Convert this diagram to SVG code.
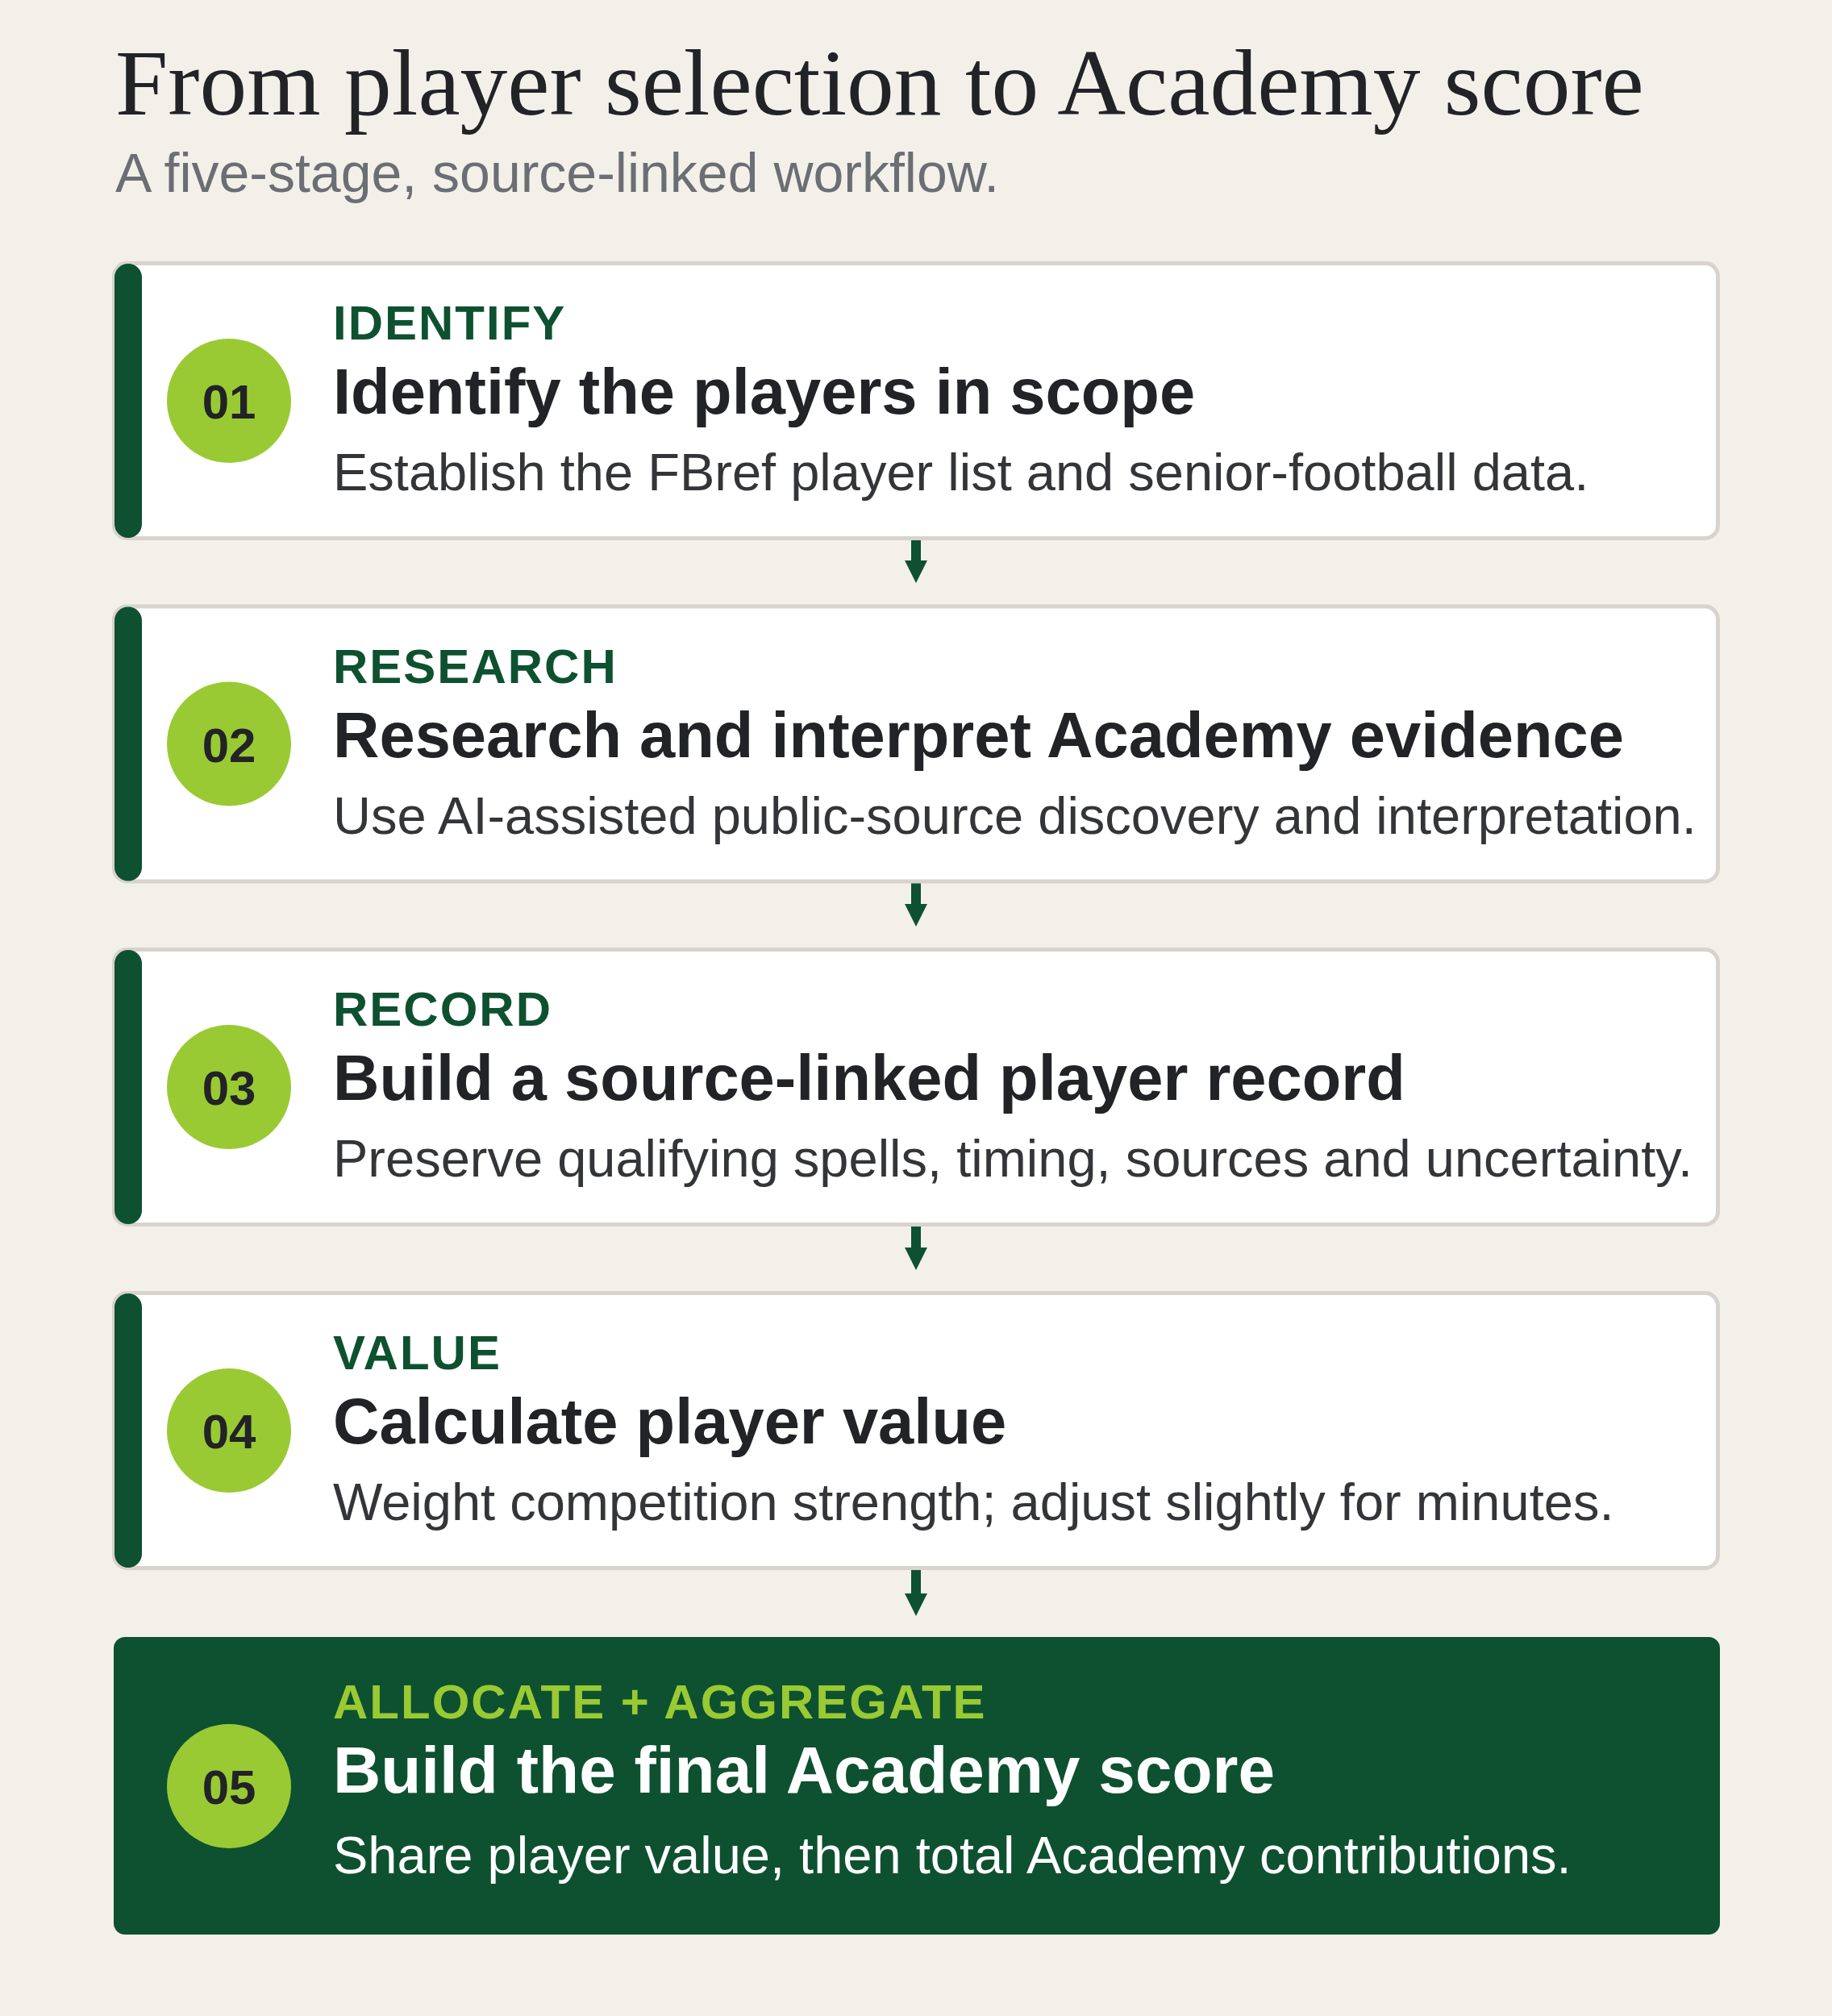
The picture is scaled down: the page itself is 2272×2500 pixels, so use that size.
<svg xmlns="http://www.w3.org/2000/svg" width="2272" height="2500" viewBox="0 0 2272 2500">
  <defs>
    <style>
      .title { font-family: "Liberation Serif", "Times New Roman", serif; font-size: 117.5px; fill: #212327; }
      .subtitle { font-family: "Liberation Sans", Arial, sans-serif; font-size: 68px; fill: #6b6e73; }
      .card { fill: #ffffff; stroke: #d8d4cd; stroke-width: 5; }
      .card-dark { fill: #0e5130; }
      .bar { fill: #0e5130; }
      .badge { fill: #9aca33; }
      .num { font-family: "Liberation Sans", Arial, sans-serif; font-size: 60px; font-weight: bold; fill: #212327; text-anchor: middle; }
      .label { font-family: "Liberation Sans", Arial, sans-serif; font-size: 60px; font-weight: bold; letter-spacing: 2px; fill: #0e5130; }
      .label-light { fill: #9aca33; }
      .head { font-family: "Liberation Sans", Arial, sans-serif; font-size: 79.5px; font-weight: bold; fill: #212327; }
      .head-final { font-size: 82px; }
      .desc { font-family: "Liberation Sans", Arial, sans-serif; font-size: 65px; fill: #333538; }
      .on-dark { fill: #ffffff; }
      .conn { stroke: #0e5130; stroke-width: 12; fill: none; marker-end: url(#arrow); }
    </style>
    <marker id="arrow" viewBox="0 0 28 28" markerWidth="28" markerHeight="28" markerUnits="userSpaceOnUse" refX="0" refY="14" orient="auto">
      <path d="M0,0 L28,14 L0,28 Z" fill="#0e5130"/>
    </marker>
  </defs>

  <rect x="0" y="0" width="2272" height="2500" fill="#f3f0e9"/>

  <g id="header">
    <text class="title" x="143" y="142">From player selection to Academy score</text>
    <text class="subtitle" x="143" y="238">A five-stage, source-linked workflow.</text>
  </g>

  <g id="connectors">
    <line class="conn" x1="1136" y1="668" x2="1136" y2="695"/>
    <line class="conn" x1="1136" y1="1093" x2="1136" y2="1121"/>
    <line class="conn" x1="1136" y1="1519" x2="1136" y2="1547"/>
    <line class="conn" x1="1136" y1="1945" x2="1136" y2="1976"/>
  </g>

  <g id="stage-01">
    <rect class="card" x="141.5" y="326.5" width="1989" height="341" rx="16"/>
    <rect class="bar" x="142" y="327" width="34" height="340" rx="17"/>
    <circle class="badge" cx="284" cy="497" r="77"/>
    <text class="num" x="284" y="519">01</text>
    <text class="label" x="413" y="421">IDENTIFY</text>
    <text class="head" x="413" y="513">Identify the players in scope</text>
    <text class="desc" x="413" y="608">Establish the FBref player list and senior-football data.</text>
  </g>

  <g id="stage-02">
    <rect class="card" x="141.5" y="752" width="1989" height="341" rx="16"/>
    <rect class="bar" x="142" y="752.5" width="34" height="340" rx="17"/>
    <circle class="badge" cx="284" cy="922.5" r="77"/>
    <text class="num" x="284" y="944.5">02</text>
    <text class="label" x="413" y="846.5">RESEARCH</text>
    <text class="head" x="413" y="938.5">Research and interpret Academy evidence</text>
    <text class="desc" x="413" y="1033.5">Use AI-assisted public-source discovery and interpretation.</text>
  </g>

  <g id="stage-03">
    <rect class="card" x="141.5" y="1177.5" width="1989" height="341" rx="16"/>
    <rect class="bar" x="142" y="1178" width="34" height="340" rx="17"/>
    <circle class="badge" cx="284" cy="1348" r="77"/>
    <text class="num" x="284" y="1370">03</text>
    <text class="label" x="413" y="1272">RECORD</text>
    <text class="head" x="413" y="1364">Build a source-linked player record</text>
    <text class="desc" x="413" y="1459">Preserve qualifying spells, timing, sources and uncertainty.</text>
  </g>

  <g id="stage-04">
    <rect class="card" x="141.5" y="1603.5" width="1989" height="341" rx="16"/>
    <rect class="bar" x="142" y="1604" width="34" height="340" rx="17"/>
    <circle class="badge" cx="284" cy="1774" r="77"/>
    <text class="num" x="284" y="1796">04</text>
    <text class="label" x="413" y="1698">VALUE</text>
    <text class="head" x="413" y="1790">Calculate player value</text>
    <text class="desc" x="413" y="1885">Weight competition strength; adjust slightly for minutes.</text>
  </g>

  <g id="stage-05">
    <rect class="card-dark" x="141" y="2030" width="1992" height="369" rx="14"/>
    <circle class="badge" cx="284" cy="2215" r="77"/>
    <text class="num" x="284" y="2237">05</text>
    <text class="label label-light" x="413" y="2131">ALLOCATE + AGGREGATE</text>
    <text class="head head-final on-dark" x="413" y="2223">Build the final Academy score</text>
    <text class="desc on-dark" x="413" y="2323">Share player value, then total Academy contributions.</text>
  </g>
</svg>
